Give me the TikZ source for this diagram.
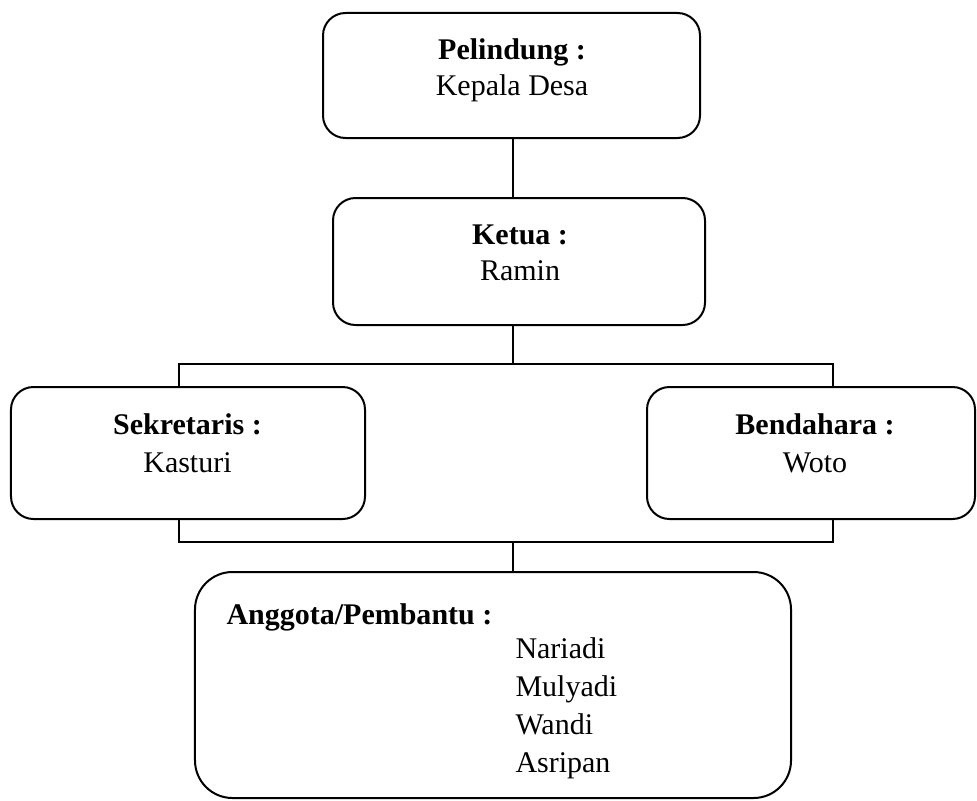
\documentclass[tikz,border=0pt]{standalone}
\usepackage{fontspec}
\setmainfont{Liberation Serif}
\usetikzlibrary{positioning,calc}
\tikzstyle{box} = [draw=black, line width=0.8pt, rounded corners=9pt, inner sep=0pt]
\tikzstyle{lbl} = [inner sep=0pt, align=center, anchor=base, font=\fontsize{12}{14.4}\selectfont]
\tikzstyle{line} = [line width=0.8pt]

\begin{document}
\begin{tikzpicture}[x=0.4pt,y=-0.4pt]
\useasboundingbox (0,0) rectangle (977,800);
% boxes
\node (pel) at (511.5,75.5) [box, minimum width=150.8pt, minimum height=50pt] {};
\node (ket) at (519,261.5) [box, minimum width=148.8pt, minimum height=50.8pt] {};
\node (sek) at (188,453) [box, minimum width=141.6pt, minimum height=52.8pt] {};
\node (ben) at (811,453) [box, minimum width=131.2pt, minimum height=52.8pt] {};
\node (ang) at (493,685) [box, rounded corners=15pt, minimum width=238.4pt, minimum height=90.4pt] {};
% texts (base = last line)
\node (tpel) at (512,95) [lbl] {\textbf{Pelindung :}\\Kepala Desa};
\node (tket) at (520,280) [lbl] {\textbf{Ketua :}\\Ramin};
\node (tsek) at (187.5,472) [lbl] {\textbf{Sekretaris :}\\[0.8pt]Kasturi};
\node (tben) at (815,472) [lbl] {\textbf{Bendahara :}\\[0.8pt]Woto};
\node (tang) at (226,624) [lbl, anchor=base west] {\textbf{Anggota/Pembantu :}};
\node (tnames) at (515,772) [lbl, anchor=base west, align=left,
  font=\fontsize{12}{15.2}\selectfont] {Nariadi\\Mulyadi\\Wandi\\Asripan};
% connectors
\coordinate (j1) at (513,364);
\coordinate (j2) at (513,542);
\coordinate (sl) at (179,0);
\coordinate (bl) at (833,0);
\draw[line] (pel.south -| j1) -- (ket.north -| j1);
\draw[line] (ket.south -| j1) -- (j1);
\draw[line] (sek.north -| sl) |- (j1) -| (ben.north -| bl);
\draw[line] (sek.south -| sl) |- (j2) -| (ben.south -| bl);
\draw[line] (j2) -- (ang.north -| j2);
\end{tikzpicture}
\end{document}
